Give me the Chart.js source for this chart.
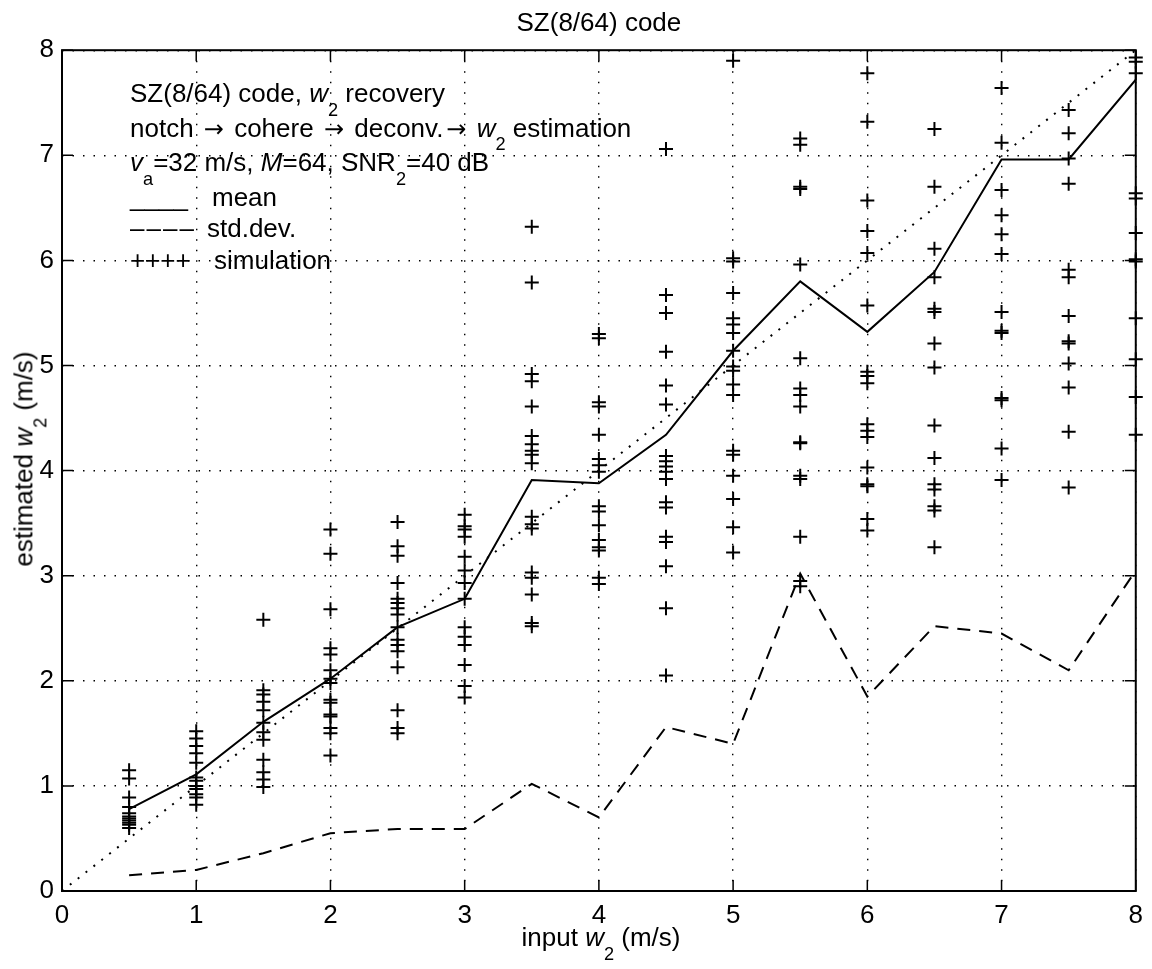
<!DOCTYPE html>
<html>
<head>
<meta charset="utf-8">
<script src="https://cdn.jsdelivr.net/npm/chart.js@4.4.1/dist/chart.umd.min.js"></script>
<style>
html,body{margin:0;padding:0;background:#fff;}
#wrap{position:relative;width:1152px;height:969px;font-family:"Liberation Sans",Arial,Helvetica,sans-serif;color:#000;overflow:hidden;}
#c{position:absolute;left:0;top:0;}
.t{position:absolute;white-space:nowrap;font-size:26px;line-height:30px;}
.sub{position:relative;top:0.75em;font-size:0.7em;}
.samp{display:inline-block;}
.arr{font-family:"DejaVu Sans",sans-serif;font-size:24px;margin:0 3px;}
#ylab{position:absolute;left:32px;top:459px;width:0;height:0;}
#ylab > .rot{position:absolute;left:0;top:0;white-space:nowrap;font-size:26px;line-height:30px;transform-origin:0 0;transform:rotate(-90deg) translate(-50%,-23.6px);}
</style>
</head>
<body>
<div id="wrap">
<canvas id="c" width="1152" height="969"></canvas>
<div class="t" id="note" style="left:130px;top:78px;line-height:31.5px;">
  <div>SZ(8/64) code, <i>w</i><span class="sub">2</span> recovery</div>
  <div>notch <span class="arr">→</span> cohere <span class="arr">→</span> deconv.<span class="arr">→</span> <i>w</i><span class="sub">2</span> estimation</div>
  <div><i>v</i><span class="sub">a</span>=32 m/s, <i>M</i>=64, SNR<span class="sub">2</span>=40 dB</div>
  <div><span class="samp" style="width:82px">____</span>mean</div>
  <div><span class="samp" style="width:77px;letter-spacing:2px">––––</span>std.dev.</div>
  <div><span class="samp" style="width:84px">++++</span>simulation</div>
</div>
<div class="t" id="xlab" style="left:601px;top:922px;transform:translateX(-50%);">input <i>w</i><span class="sub">2</span> (m/s)</div>
<div id="ylab"><span class="rot">estimated <i>w</i><span class="sub">2</span> (m/s)</span></div>
</div>
<script>
// ---- data ----
const inputW = [0.5, 1, 1.5, 2, 2.5, 3, 3.5, 4, 4.5, 5, 5.5, 6, 6.5, 7, 7.5, 8];
const meanW  = [0.78, 1.11, 1.61, 2.02, 2.51, 2.78, 3.91, 3.88, 4.34, 5.14, 5.80, 5.32, 5.89, 6.96, 6.96, 7.72];
const stdW   = [0.15, 0.20, 0.36, 0.55, 0.59, 0.59, 1.02, 0.70, 1.56, 1.40, 3.02, 1.85, 2.52, 2.45, 2.10, 3.05];
const simW = [
  [1.15, 1.07, 0.89, 0.80, 0.74, 0.71, 0.69, 0.67, 0.65, 0.63, 0.60],
  [1.52, 1.45, 1.38, 1.31, 1.22, 1.08, 1.05, 1.00, 0.97, 0.92, 0.89, 0.82],
  [2.58, 1.91, 1.87, 1.80, 1.72, 1.60, 1.51, 1.44, 1.25, 1.13, 1.06, 0.99],
  [3.44, 3.21, 2.68, 2.31, 2.25, 2.10, 2.02, 1.98, 1.82, 1.79, 1.68, 1.66, 1.55, 1.50, 1.29],
  [3.51, 3.28, 3.19, 2.93, 2.78, 2.74, 2.69, 2.63, 2.51, 2.39, 2.34, 2.28, 2.13, 1.72, 1.55, 1.50],
  [3.58, 3.47, 3.44, 3.37, 3.18, 3.05, 2.93, 2.78, 2.51, 2.42, 2.34, 2.15, 1.95, 1.84],
  [6.32, 5.79, 4.92, 4.85, 4.61, 4.33, 4.25, 4.19, 4.15, 4.07, 3.56, 3.49, 3.45, 3.03, 2.98, 2.82, 2.55, 2.52],
  [5.30, 5.26, 4.65, 4.61, 4.34, 4.11, 4.05, 3.99, 3.66, 3.61, 3.48, 3.34, 3.27, 3.24, 2.98, 2.92],
  [7.06, 5.67, 5.50, 5.13, 4.81, 4.63, 4.14, 4.09, 4.04, 3.99, 3.92, 3.70, 3.65, 3.37, 3.32, 3.09, 2.69, 2.05],
  [7.90, 6.02, 5.99, 5.69, 5.45, 5.39, 5.31, 5.14, 4.99, 4.95, 4.82, 4.72, 4.19, 4.15, 3.95, 3.73, 3.46, 3.22],
  [7.16, 7.10, 6.70, 6.68, 5.96, 5.07, 4.78, 4.72, 4.61, 4.27, 4.26, 3.95, 3.92, 3.37, 2.95, 2.90],
  [7.78, 7.32, 6.57, 6.28, 6.07, 5.57, 4.94, 4.90, 4.83, 4.44, 4.38, 4.32, 4.03, 3.87, 3.85, 3.54, 3.43],
  [7.25, 6.70, 6.11, 5.84, 5.54, 5.51, 5.21, 4.98, 4.43, 4.12, 3.87, 3.82, 3.66, 3.62, 3.27],
  [7.64, 7.12, 6.67, 6.43, 6.25, 6.06, 5.51, 5.33, 5.31, 4.69, 4.67, 4.21, 3.91],
  [7.43, 7.21, 6.97, 6.73, 5.91, 5.84, 5.47, 5.23, 5.21, 5.02, 4.79, 4.37, 3.84],
  [7.93, 7.89, 7.78, 6.64, 6.59, 6.26, 6.01, 5.99, 5.45, 5.06, 4.70, 4.34]
];
const idealW = [0, 8];
const axisMin = 0, axisMax = 8, axisStep = 1;
const titleText = 'SZ(8/64) code';

// ---- build datasets ----
const simPoints = [];
inputW.forEach((x, i) => simW[i].forEach(y => simPoints.push({x, y})));
const meanPoints = inputW.map((x, i) => ({x, y: meanW[i]}));
const stdPoints = inputW.map((x, i) => ({x, y: stdW[i]}));
const idealPoints = idealW.map(v => ({x: v, y: v}));

const FONT = "'Liberation Sans', Arial, Helvetica, sans-serif";

const framePlugin = {
  id: 'frame',
  afterDraw(chart) {
    const {ctx, chartArea: a, scales: {x, y}} = chart;
    ctx.save();
    ctx.strokeStyle = '#000';
    ctx.lineWidth = 1.5;
    ctx.beginPath();
    const tl = 11;
    x.ticks.forEach(t => {
      const p = x.getPixelForValue(t.value);
      ctx.moveTo(p, a.bottom); ctx.lineTo(p, a.bottom - tl);
      ctx.moveTo(p, a.top); ctx.lineTo(p, a.top + tl);
    });
    y.ticks.forEach(t => {
      const p = y.getPixelForValue(t.value);
      ctx.moveTo(a.left, p); ctx.lineTo(a.left + tl, p);
      ctx.moveTo(a.right, p); ctx.lineTo(a.right - tl, p);
    });
    ctx.stroke();
    ctx.lineWidth = 2;
    ctx.strokeRect(a.left, a.top, a.right - a.left, a.bottom - a.top);
    ctx.restore();
  }
};

new Chart(document.getElementById('c'), {
  type: 'scatter',
  data: {
    datasets: [
      {label: 'ideal', data: idealPoints, showLine: true, borderColor: '#000', borderWidth: 2,
       borderDash: [2, 8], pointRadius: 0, fill: false},
      {label: 'std.dev.', data: stdPoints, showLine: true, borderColor: '#000', borderWidth: 2,
       borderDash: [13, 9], pointRadius: 0, fill: false},
      {label: 'mean', data: meanPoints, showLine: true, borderColor: '#000', borderWidth: 2,
       pointRadius: 0, fill: false},
      {label: 'simulation', data: simPoints, showLine: false, pointStyle: 'cross', pointRadius: 7,
       pointBorderWidth: 2, borderColor: '#000', backgroundColor: '#000', clip: false}
    ]
  },
  options: {
    responsive: false,
    animation: false,
    layout: {padding: {left: 0, right: 12, top: 0, bottom: 0}},
    plugins: {
      legend: {display: false},
      tooltip: {enabled: false},
      title: {display: true, fullSize: false, text: titleText, color: '#000',
              font: {family: FONT, size: 26, weight: 'normal'}, padding: {top: 8, bottom: 11}}
    },
    scales: {
      x: {
        type: 'linear', min: axisMin, max: axisMax,
        afterFit(s) { s.height = 78; },
        ticks: {stepSize: axisStep, color: '#000', font: {family: FONT, size: 26}, padding: 9, maxRotation: 0},
        grid: {color: '#000', lineWidth: 1.4, drawTicks: false},
        border: {display: false, dash: [1.5, 9]}
      },
      y: {
        type: 'linear', min: axisMin, max: axisMax,
        afterFit(s) { s.width = 62; },
        ticks: {stepSize: axisStep, color: '#000', font: {family: FONT, size: 26}, padding: 8},
        grid: {color: '#000', lineWidth: 1.4, drawTicks: false},
        border: {display: false, dash: [1.5, 9]}
      }
    }
  },
  plugins: [framePlugin]
});
</script>
</body>
</html>
